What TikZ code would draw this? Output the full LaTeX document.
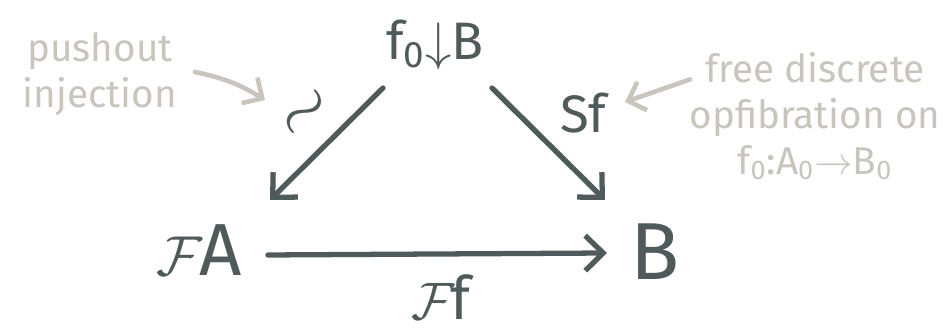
\RequirePackage{fix-cm}
\documentclass[tikz,border=0pt]{standalone}
\usepackage{fontspec}
\setmainfont{Fira Sans}
\usetikzlibrary{arrows.meta, positioning}

\definecolor{inkdark}{HTML}{4F5A5A}
\definecolor{inknote}{HTML}{C9C5BD}

\newcommand{\scrF}[1]{{\fontsize{#1}{#1}\selectfont$\mathcal{F}$}\kern-2pt}

\begin{document}
\begin{tikzpicture}[
    obj/.style  ={inner sep=1pt, text=inkdark},
    big/.style  ={obj, font=\fontsize{46}{50}\selectfont},
    mid/.style  ={obj, font=\fontsize{30}{34}\selectfont},
    note/.style ={inner sep=2pt, text=inknote, align=center,
                  font=\fontsize{22}{26}\selectfont},
    arr/.style  ={-{Straight Barb[length=3.6mm, width=7mm, line width=3pt]},
                  line width=3pt, line cap=round, draw=inkdark},
    pointer/.style={-{Straight Barb[length=3mm, width=6mm, line width=2.6pt]},
                  line width=2.6pt, line cap=round, draw=inknote}
  ]
  \useasboundingbox (0,0) rectangle (19.02,6.68);

  % ---- the triangle ------------------------------------------------------
  \node[mid] (comma) at (8.70, 5.78) {f\textsubscript{0}$\downarrow$B};
  \node[obj, font=\fontsize{42}{46}\selectfont] (FA) at (3.98, 1.68) {\scrF{32}A};
  \node[big] (B)     at (13.10, 1.64) {B};

  % ---- arrow labels ------------------------------------------------------
  \node[mid, rotate=45, font=\fontsize{40}{40}\selectfont] (iso) at (6.16, 4.38) {$\sim$};
  \node[mid] (Sf)  at (11.66, 4.42) {Sf};
  \node[obj, font=\fontsize{34}{38}\selectfont] (Ff) at (8.82, 0.74) {\scrF{30}f};

  % ---- notes -------------------------------------------------------------
  \node[note] (push) at (2.00, 5.20) {pushout\\injection};
  \node[note] (free) at (16.30, 4.35)
        {free discrete\\opfibration on\\f\textsubscript{0}:A\textsubscript{0}$\to$B\textsubscript{0}};

  % ---- arrows ------------------------------------------------------------
  \draw[arr] ([shift={(-1.04,-0.86)}]comma.center) -- ([shift={(1.42,1.00)}]FA.center);
  \draw[arr] ([shift={(1.14,-0.86)}]comma.center) -- ([shift={(-1.00,1.04)}]B.center);
  \draw[arr] ([shift={(1.38,-0.10)}]FA.center) -- ([shift={(-0.96,-0.02)}]B.center);

  % ---- note pointers -----------------------------------------------------
  \draw[pointer] ([shift={(1.90,0.04)}]push.center) to[bend left=10]
                 ([shift={(-0.86,0.30)}]iso.center);
  \draw[pointer] ([shift={(-2.50,0.74)}]free.center) -- ([shift={(0.84,0.22)}]Sf.center);

\end{tikzpicture}
\end{document}
